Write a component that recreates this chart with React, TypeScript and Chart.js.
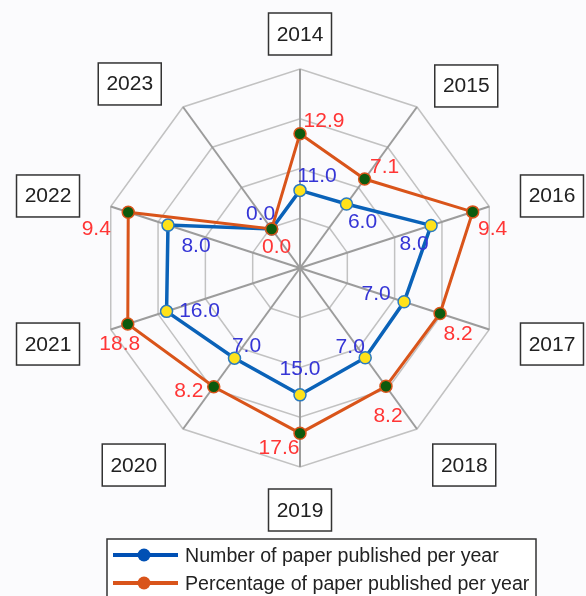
import React, { useEffect, useRef } from "react";
import { Chart, registerables } from "chart.js";

Chart.register(...registerables);

// ---- data ----
const years = ["2014", "2015", "2016", "2017", "2018", "2019", "2020", "2021", "2022", "2023"];
const paperCounts = [11.0, 6.0, 8.0, 7.0, 7.0, 15.0, 7.0, 16.0, 8.0, 0.0];
const paperPercent = [12.9, 7.1, 9.4, 8.2, 8.2, 17.6, 8.2, 18.8, 9.4, 0.0];
// where each marker sits on the 4-ring web (every axis of the original has its own scale)
const countRadial = [1.56, 1.59, 2.77, 2.2, 2.23, 2.55, 2.24, 2.82, 2.79, 0.97];
const percentRadial = [2.7, 2.21, 3.65, 2.96, 2.94, 3.32, 2.95, 3.64, 3.63, 0.97];
const ringMin = 0;
const ringMax = 4;
const legendLabels = ["Number of paper published per year", "Percentage of paper published per year"];

// ---- styling ----
const BLUE = "#0a62b8";
const ORANGE = "#d9541a";
const BG = "#fbfbfd";
const FONT = '"Liberation Sans", Arial, sans-serif';
const countLabelNudge: [number, number][] = [
  [17, -14], [16, 18], [-17, 19], [-28, -7], [-15, -10], [0, -25], [12, -12], [33, 0], [28, 21], [-11, -14],
];
const percentLabelNudge: [number, number][] = [
  [24, -12], [20, -12], [20, 18], [18, 21], [2, 30], [-21, 15], [-25, 5], [-8, 21], [-32, 17], [5, 19],
];
const yearNudge: [number, number][] = [
  [0, -9], [34, 0], [38, -2.5], [38, 6.5], [32, 15], [0, 17], [-34, 15], [-38, 6.5], [-38, -2.5], [-38, -2],
];

function drawText(ctx: CanvasRenderingContext2D, text: string, x: number, y: number, sx: number) {
  ctx.save();
  ctx.translate(x, y);
  ctx.scale(sx, 1);
  ctx.fillText(text, 0, 0);
  ctx.restore();
}

const overlayPlugin = {
  id: "overlay",
  beforeDraw(chart: any) {
    const ctx = chart.ctx;
    ctx.save();
    ctx.fillStyle = BG;
    ctx.fillRect(0, 0, chart.width, chart.height);
    ctx.restore();
  },
  afterDatasetsDraw(chart: any) {
    const ctx: CanvasRenderingContext2D = chart.ctx;
    const r = chart.scales.r;
    ctx.save();
    ctx.textAlign = "center";
    ctx.textBaseline = "middle";
    ctx.font = `20px ${FONT}`;
    // value labels
    const metaPct = chart.getDatasetMeta(0);
    const metaCnt = chart.getDatasetMeta(1);
    metaCnt.data.forEach((p: any, i: number) => {
      ctx.fillStyle = "#3535d6";
      drawText(ctx, paperCounts[i].toFixed(1), p.x + countLabelNudge[i][0], p.y + countLabelNudge[i][1], 1.05);
    });
    metaPct.data.forEach((p: any, i: number) => {
      ctx.fillStyle = "#ff3535";
      drawText(ctx, paperPercent[i].toFixed(1), p.x + percentLabelNudge[i][0], p.y + percentLabelNudge[i][1], 1.05);
    });
    // year boxes
    const dist = r.drawingArea * (225 / 199);
    years.forEach((y, i) => {
      const pos = r.getPointPosition(i, dist);
      const cx = pos.x + yearNudge[i][0];
      const cy = pos.y + yearNudge[i][1];
      const w = 63, h = 42;
      ctx.fillStyle = "#ffffff";
      ctx.fillRect(cx - w / 2, cy - h / 2, w, h);
      ctx.strokeStyle = "#333333";
      ctx.lineWidth = 1.5;
      ctx.strokeRect(cx - w / 2, cy - h / 2, w, h);
      ctx.fillStyle = "#222222";
      drawText(ctx, y, cx, cy + 1, 1.05);
    });
    // legend
    const lx = 107, ly = 539, lw = 429, lh = 70;
    ctx.fillStyle = "#ffffff";
    ctx.fillRect(lx, ly, lw, lh);
    ctx.strokeStyle = "#333333";
    ctx.lineWidth = 1.5;
    ctx.strokeRect(lx, ly, lw, lh);
    const rows = [
      { y: 555, color: "#0050b4", label: legendLabels[0] },
      { y: 583, color: ORANGE, label: legendLabels[1] },
    ];
    ctx.textAlign = "left";
    rows.forEach((row) => {
      ctx.strokeStyle = row.color;
      ctx.lineWidth = 4;
      ctx.beginPath();
      ctx.moveTo(113, row.y);
      ctx.lineTo(178, row.y);
      ctx.stroke();
      ctx.fillStyle = row.color;
      ctx.beginPath();
      ctx.arc(144, row.y, 6.5, 0, Math.PI * 2);
      ctx.fill();
      ctx.fillStyle = "#222222";
      drawText(ctx, row.label, 185, row.y + 1, 0.98);
    });
    ctx.restore();
  },
};

export default function App() {
  const canvasRef = useRef<HTMLCanvasElement | null>(null);

  useEffect(() => {
    document.body.style.margin = "0";
    document.body.style.background = BG;
    const canvas = canvasRef.current;
    if (!canvas) return;
    const chart = new Chart(canvas, {
      type: "radar",
      data: {
        labels: years,
        datasets: [
          {
            label: legendLabels[1],
            data: percentRadial,
            borderColor: ORANGE,
            borderWidth: 3,
            backgroundColor: "rgba(0,0,0,0)",
            fill: false,
            pointRadius: 6,
            pointBorderWidth: 1.5,
            pointBackgroundColor: "#0d5a0d",
            pointBorderColor: ORANGE,
          },
          {
            label: legendLabels[0],
            data: countRadial,
            borderColor: BLUE,
            borderWidth: 3.5,
            backgroundColor: "rgba(0,0,0,0)",
            fill: false,
            pointRadius: 6,
            pointBorderWidth: 1.5,
            pointBackgroundColor: "#ffe21a",
            pointBorderColor: "#2a7ac0",
          },
        ],
      },
      options: {
        responsive: false,
        animation: false,
        layout: { padding: { left: 101, right: 87, top: 69, bottom: 129 } },
        plugins: { legend: { display: false }, tooltip: { enabled: false } },
        elements: { line: { tension: 0 } },
        scales: {
          r: {
            min: ringMin,
            max: ringMax,
            ticks: { display: false, stepSize: 1 },
            pointLabels: { display: false },
            grid: { color: "#c2c2c2", lineWidth: 1.5 },
            angleLines: { color: "#9c9c9c", lineWidth: 2 },
          },
        },
      },
      plugins: [overlayPlugin],
    });
    return () => chart.destroy();
  }, []);

  return (
    <div style={{ width: 586, height: 596 }}>
      <canvas ref={canvasRef} width={586} height={596} style={{ display: "block" }} />
    </div>
  );
}
